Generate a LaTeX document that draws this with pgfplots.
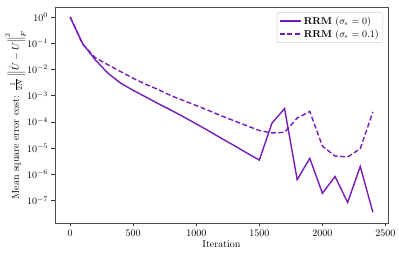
\documentclass[border=0pt]{standalone}
\usepackage{pgfplots}
\pgfplotsset{compat=1.18}
\definecolor{rrm}{RGB}{118,28,186}
\begin{document}
\begin{tikzpicture}
\begin{axis}[
  scale only axis,
  width=333pt, height=216pt,
  ymode=log,
  xmin=-120, xmax=2520,
  ymin=1.4e-8, ymax=2.4,
  xtick={0,500,1000,1500,2000,2500},
  ytick={1,1e-1,1e-2,1e-3,1e-4,1e-5,1e-6,1e-7},
  /pgf/number format/1000 sep={},
  tick align=outside,
  xtick pos=bottom, ytick pos=left,
  major tick length=3.5pt, minor tick length=2pt,
  axis line style={draw=black!70, line width=0.8pt},
  every tick/.style={black!80, line width=0.6pt},
  xlabel={Iteration},
  ylabel={Mean square error cost: $\frac{1}{2N}\left\|\hat{U}-U\right\|_F^2$},
  xlabel style={yshift=3pt},
  ylabel style={at={([xshift=-39.5pt]axis description cs:0,0.5)}, anchor=center},
  legend style={draw=black!20, rounded corners=1pt, legend cell align=left, at={(0.985,0.975)}, anchor=north east, inner sep=2pt},
  legend image code/.code={\draw[#1] (0cm,0cm) -- (0.75cm,0cm);},
]
\addplot[rrm, line width=1.4pt] coordinates {
(0,1.0) (100,0.095) (200,0.023) (300,7.2e-3) (400,3.0e-3) (500,1.6e-3)
(600,8.9e-4) (700,4.9e-4) (800,2.8e-4) (900,1.55e-4) (1000,8.4e-5)
(1100,4.5e-5) (1200,2.35e-5) (1300,1.26e-5) (1400,6.6e-6) (1500,3.5e-6)
(1600,9e-5) (1700,3.2e-4) (1800,6.3e-7) (1900,4.1e-6) (2000,1.9e-7)
(2100,8.3e-7) (2200,8.5e-8) (2300,2.0e-6) (2400,3.6e-8)
};
\addlegendentry{\textbf{RRM} ($\sigma_\epsilon=0$)}
\addplot[rrm, line width=1.4pt, dash pattern=on 5pt off 2.5pt] coordinates {
(0,1.0) (100,0.09) (200,0.028) (300,0.015) (400,8.3e-3) (500,4.6e-3)
(600,2.7e-3) (700,1.7e-3) (800,1.0e-3) (900,6.5e-4) (1000,4.2e-4)
(1100,2.7e-4) (1200,1.7e-4) (1300,1.1e-4) (1400,7.2e-5) (1500,4.7e-5)
(1600,3.8e-5) (1700,4.0e-5) (1800,1.4e-4) (1900,2.5e-4) (2000,1.2e-5)
(2100,5e-6) (2200,4.6e-6) (2300,9.5e-6) (2400,2.4e-4)
};
\addlegendentry{\textbf{RRM} ($\sigma_\epsilon=0.1$)}
\coordinate (bl) at (rel axis cs:0,0);
\end{axis}
\path (bl) ++(-55pt,-34pt) rectangle ++(399pt,257pt);
\end{tikzpicture}
\end{document}
